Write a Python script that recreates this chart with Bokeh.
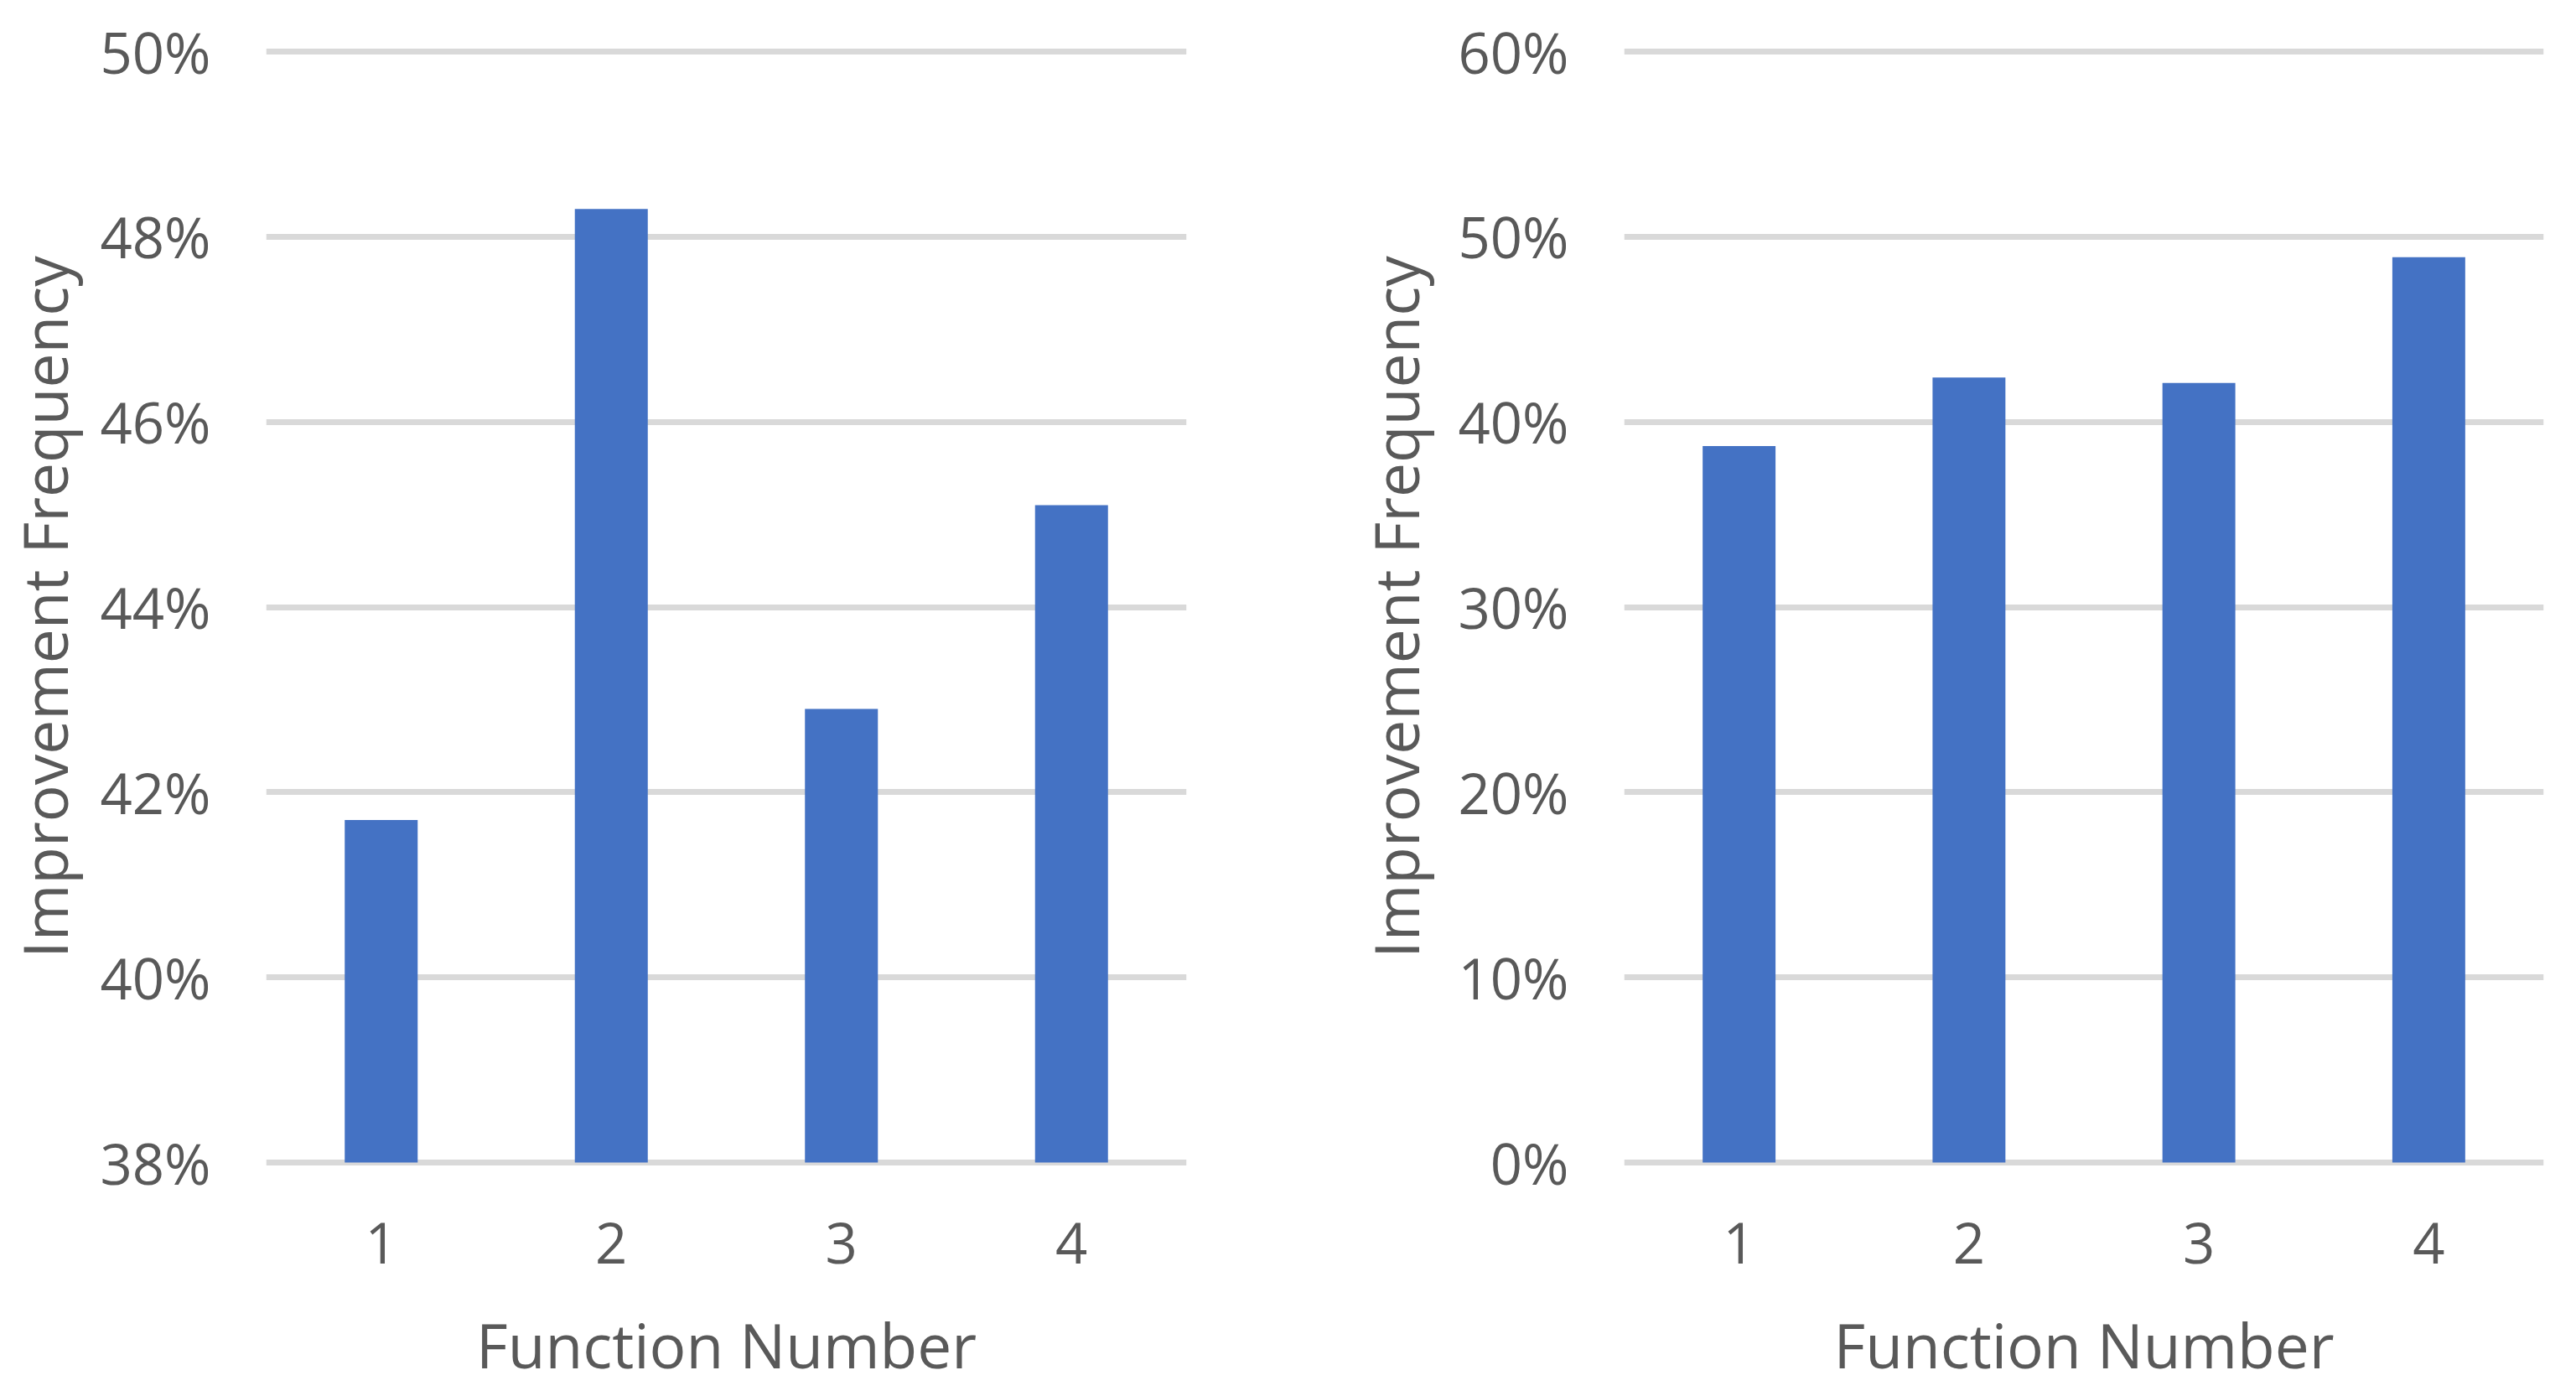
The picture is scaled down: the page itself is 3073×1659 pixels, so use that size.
from bokeh.plotting import figure
from bokeh.layouts import row
from bokeh.models import Range1d, FixedTicker, NumeralTickFormatter
from bokeh.embed import file_html
from bokeh.resources import INLINE

# ---- data ----
functions = [1, 2, 3, 4]
tick_labels = ["1", "2", "3", "4"]
left_values = [0.417, 0.483, 0.429, 0.451]
right_values = [0.387, 0.424, 0.421, 0.489]
left_ticks = [0.38, 0.40, 0.42, 0.44, 0.46, 0.48, 0.50]
right_ticks = [0.0, 0.1, 0.2, 0.3, 0.4, 0.5, 0.6]
x_title = "Function Number"
y_title = "Improvement Frequency"

FONT = "Open Sans"
TEXT = "#595959"
GRID = "#D9D9D9"
BAR = "#4472C4"

FRAME_H = 1335
TOP = 56
BOTTOM = 258


def make_chart(values, ticks, ymin, ymax, frame_w, border_left, border_right, ytitle_standoff):
    pad = (ymax - ymin) * 5.0 / 1325.0
    p = figure(frame_width=frame_w, frame_height=FRAME_H, output_backend="svg",
               toolbar_location=None,
               x_range=Range1d(0.5, 4.5), y_range=Range1d(ymin - pad, ymax + pad),
               min_border_left=border_left, min_border_right=border_right,
               min_border_top=TOP, min_border_bottom=BOTTOM)
    p.vbar(x=functions, top=values, bottom=ymin, width=0.317,
           fill_color=BAR, line_color=None)
    p.outline_line_color = None
    p.background_fill_color = "white"
    p.border_fill_color = "white"
    p.xgrid.grid_line_color = None
    p.ygrid.grid_line_color = GRID
    p.ygrid.grid_line_width = 7
    p.ygrid.ticker = FixedTicker(ticks=ticks)

    p.xaxis.ticker = FixedTicker(ticks=functions)
    p.xaxis.major_label_overrides = {f: t for f, t in zip(functions, tick_labels)}
    p.yaxis.ticker = FixedTicker(ticks=ticks)
    p.yaxis.formatter = NumeralTickFormatter(format="0%")

    for ax in (p.xaxis, p.yaxis):
        ax.axis_line_color = None
        ax.major_tick_line_color = None
        ax.minor_tick_line_color = None
        ax.major_tick_out = 0
        ax.major_tick_in = 0
        ax.minor_tick_out = 0
        ax.major_label_text_font = FONT
        ax.major_label_text_font_size = "67px"
        ax.major_label_text_color = TEXT
        ax.axis_label_text_font = FONT
        ax.axis_label_text_font_size = "73px"
        ax.axis_label_text_color = TEXT
        ax.axis_label_text_font_style = "normal"
        ax.axis_label_text_line_height = 0.5

    p.yaxis.axis_label = y_title
    p.yaxis.major_label_standoff = 66
    p.yaxis.axis_label_standoff = ytitle_standoff
    p.xaxis.axis_label = x_title
    p.xaxis.major_label_standoff = 66
    p.xaxis.axis_label_standoff = 44
    return p


p1 = make_chart(left_values, left_ticks, 0.38, 0.50, 1098, 310, 125, 14)
p2 = make_chart(right_values, right_ticks, 0.0, 0.60, 1097, 397, 20, 22)

layout = row(p1, p2)
open("out.html", "w").write(file_html(layout, INLINE))
